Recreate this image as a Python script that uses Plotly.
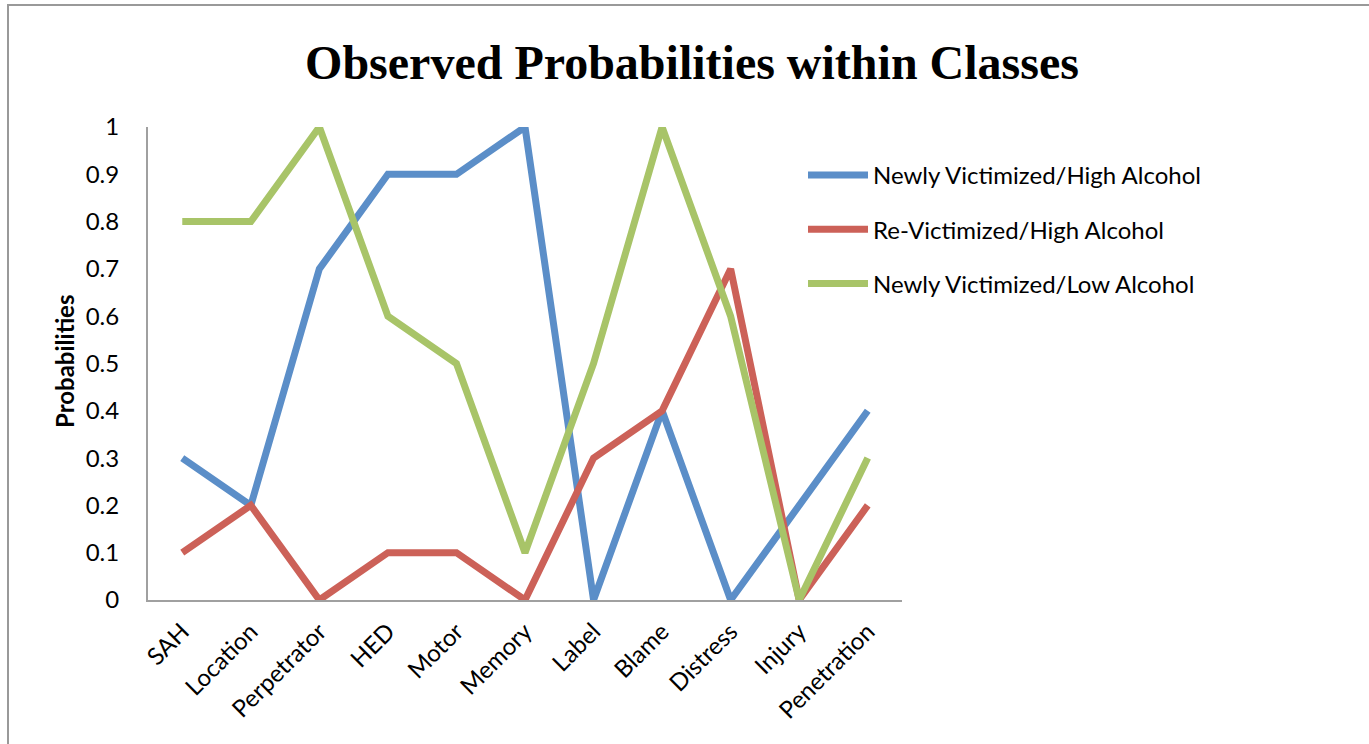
import plotly.graph_objects as go

categories = ["SAH", "Location", "Perpetrator", "HED", "Motor", "Memory",
              "Label", "Blame", "Distress", "Injury", "Penetration"]
newly_high = [0.3, 0.2, 0.7, 0.9, 0.9, 1.0, 0.0, 0.4, 0.0, 0.2, 0.4]
revict_high = [0.1, 0.2, 0.0, 0.1, 0.1, 0.0, 0.3, 0.4, 0.7, 0.0, 0.2]
newly_low = [0.8, 0.8, 1.0, 0.6, 0.5, 0.1, 0.5, 1.0, 0.6, 0.0, 0.3]

series = [
    ("Newly Victimized/High Alcohol", newly_high, "#5b8ec8"),
    ("Re-Victimized/High Alcohol", revict_high, "#cc6158"),
    ("Newly Victimized/Low Alcohol", newly_low, "#a8c468"),
]

W, H = 1369, 744
L, R, T, B = 148, 467, 127, 144
pw, ph = W - L - R, H - T - B

def px_x(x):
    return (x - L) / pw

def px_y(y):
    return (H - B - y) / ph

fig = go.Figure()
for i, (name, vals, color) in enumerate(series):
    fig.add_trace(go.Scatter(
        x=categories, y=vals, name=name, mode="lines",
        legendgroup=f"g{i}",
        line=dict(color=color, width=7),
    ))

font = "Lato, 'Open Sans', sans-serif"

fig.update_layout(
    width=W, height=H,
    margin=dict(l=L, r=R, t=T, b=B, autoexpand=False),
    paper_bgcolor="white", plot_bgcolor="white",
    font=dict(family=font, size=24, color="black"),
    title=dict(
        text="<b>Observed Probabilities within Classes</b>",
        x=692 / W, xanchor="center", y=1 - 62 / H, yanchor="middle",
        font=dict(family="'Liberation Serif', 'Times New Roman', serif", size=48, color="black"),
    ),
    xaxis=dict(
        range=[-0.5, 10.5], showgrid=False, zeroline=False,
        showline=True, linecolor="#a0a0a0", linewidth=2,
        tickangle=-45, ticks="", tickfont=dict(size=24),
        ticklabelstandoff=6,
    ),
    yaxis=dict(
        range=[0, 1], showgrid=False, zeroline=False,
        showline=True, linecolor="#a0a0a0", linewidth=2,
        ticks="", ticklabelstandoff=22, tickfont=dict(size=24),
        tickvals=[0, 0.1, 0.2, 0.3, 0.4, 0.5, 0.6, 0.7, 0.8, 0.9, 1.0],
        ticktext=["0", "0.1", "0.2", "0.3", "0.4", "0.5", "0.6", "0.7", "0.8", "0.9", "1"],
    ),
    legend=dict(
        x=px_x(803), xanchor="left", y=px_y(153), yanchor="top",
        font=dict(size=24), itemwidth=60, tracegroupgap=20,
        bgcolor="rgba(0,0,0,0)",
    ),
    showlegend=True,
    annotations=[dict(
        text="<b>Probabilities</b>", textangle=-90,
        x=px_x(64), y=px_y(362), xref="paper", yref="paper",
        xanchor="center", yanchor="middle",
        showarrow=False, font=dict(size=24),
    )],
    shapes=[dict(
        type="rect", xref="paper", yref="paper",
        x0=px_x(8), x1=px_x(W + 10), y0=px_y(H + 10), y1=px_y(5),
        line=dict(color="#999999", width=2), fillcolor="rgba(0,0,0,0)",
        layer="below",
    )],
)

fig.write_html("out.html")
